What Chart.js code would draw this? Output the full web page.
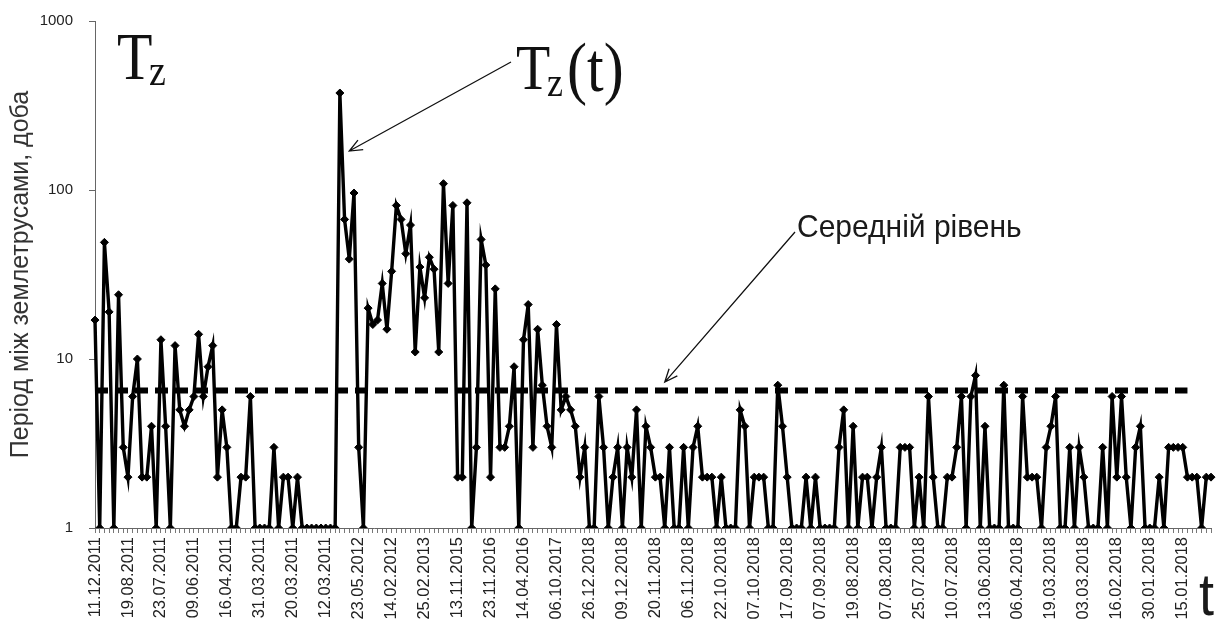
<!DOCTYPE html>
<html>
<head>
<meta charset="utf-8">
<script src="https://cdn.jsdelivr.net/npm/chart.js@4.4.0/dist/chart.umd.min.js"></script>
<style>
  html, body { margin: 0; padding: 0; background: #fff; }
  #wrap { width: 1216px; height: 633px; position: relative; }
</style>
</head>
<body>
<div id="wrap"><canvas id="chart"></canvas></div>
<script>
// date labels, one every 7 events
const tickLabels = [
  '11.12.2011', '19.08.2011', '23.07.2011', '09.06.2011', '16.04.2011', '31.03.2011',
  '20.03.2011', '12.03.2011', '23.05.2012', '14.02.2012', '25.02.2013', '13.11.2015',
  '23.11.2016', '14.04.2016', '06.10.2017', '26.12.2018', '09.12.2018', '20.11.2018',
  '06.11.2018', '22.10.2018', '07.10.2018', '17.09.2018', '07.09.2018', '19.08.2018',
  '07.08.2018', '25.07.2018', '10.07.2018', '13.06.2018', '06.04.2018', '19.03.2018',
  '03.03.2018', '16.02.2018', '30.01.2018', '15.01.2018'
];
const labelStep = 7;

// period between earthquakes, days
const periodDays = [
  17, 1, 49, 19, 1, 24, 3, 2, 6, 10,
  2, 2, 4, 1, 13, 4, 1, 12, 5, 4,
  5, 6, 14, 6, 9, 12, 2, 5, 3, 1,
  1, 2, 2, 6, 1, 1, 1, 1, 3, 1,
  2, 2, 1, 2, 1, 1, 1, 1, 1, 1,
  1, 1, 375, 67, 39, 96, 3, 1, 20, 16,
  17, 28, 15, 33, 81, 67, 42, 62, 11, 35,
  23, 40, 34, 11, 109, 28, 81, 2, 2, 84,
  1, 3, 51, 36, 2, 26, 3, 3, 4, 9,
  1, 13, 21, 3, 15, 7, 4, 3, 16, 5,
  6, 5, 4, 2, 3, 1, 1, 6, 3, 1,
  2, 3, 1, 3, 2, 5, 1, 4, 3, 2,
  2, 1, 3, 1, 1, 3, 1, 3, 4, 2,
  2, 2, 1, 2, 1, 1, 1, 5, 4, 1,
  2, 2, 2, 1, 1, 7, 4, 2, 1, 1,
  1, 2, 1, 2, 1, 1, 1, 1, 3, 5,
  1, 4, 1, 2, 2, 1, 2, 3, 1, 1,
  1, 3, 3, 3, 1, 2, 1, 6, 2, 1,
  1, 2, 2, 3, 6, 1, 6, 8, 1, 4,
  1, 1, 1, 7, 1, 1, 1, 6, 2, 2,
  2, 1, 3, 4, 6, 1, 1, 3, 1, 3,
  2, 1, 1, 1, 3, 1, 6, 2, 6, 2,
  1, 3, 4, 1, 1, 1, 2, 1, 3, 3,
  3, 3, 2, 2, 2, 1, 2, 2
];

const meanLevel = 6.5;
const meanEndIndex = 232;
const yTicks = [1, 10, 100, 1000];

// where the two arrows point, in data terms
const seriesArrowTip = { index: 54, value: 170 };
const meanArrowTip = { index: 121, value: 7.3 };

const categories = periodDays.map((_, i) =>
  i % labelStep === 0 ? (tickLabels[i / labelStep] || '') : '');
const meanLine = periodDays.map((_, i) =>
  (i === 0 || i === meanEndIndex) ? meanLevel : null);

function arrow(ctx, x1, y1, x2, y2) {
  const a = Math.atan2(y2 - y1, x2 - x1);
  const len = 14, spread = 0.4;
  ctx.beginPath();
  ctx.moveTo(x1, y1);
  ctx.lineTo(x2, y2);
  ctx.moveTo(x2 - len * Math.cos(a - spread), y2 - len * Math.sin(a - spread));
  ctx.lineTo(x2, y2);
  ctx.lineTo(x2 - len * Math.cos(a + spread), y2 - len * Math.sin(a + spread));
  ctx.stroke();
}

// text drawn a little taller than wide, like the source figure
function tallText(ctx, text, font, x, y, stretch) {
  ctx.save();
  ctx.font = font;
  ctx.translate(x, y);
  ctx.scale(1, stretch);
  ctx.fillText(text, 0, 0);
  ctx.restore();
}

const notes = {
  id: 'notes',
  afterDraw(chart) {
    const { ctx, scales: { x, y } } = chart;
    ctx.save();
    ctx.fillStyle = '#111';
    ctx.strokeStyle = '#111';
    ctx.textBaseline = 'alphabetic';
    ctx.textAlign = 'left';

    // Tz in the corner
    tallText(ctx, 'T', '58px "Liberation Serif"', 117, 79, 1.15);
    tallText(ctx, 'z', '38px "Liberation Serif"', 149, 85, 1.15);

    // Tz(t)
    tallText(ctx, 'T', '56px "Liberation Serif"', 516, 89, 1.15);
    tallText(ctx, 'z', '36px "Liberation Serif"', 547, 96, 1.15);
    tallText(ctx, '(t)', '60px "Liberation Serif"', 567, 91, 1.15);

    ctx.fillStyle = '#1a1a1a';
    tallText(ctx, 'Середній рівень', '30px "Liberation Sans"', 797, 237, 1.05);
    tallText(ctx, 't', '54px "Liberation Sans"', 1199, 615, 1.1);

    ctx.lineWidth = 1.3;
    arrow(ctx, 511, 62,
      x.getPixelForValue(seriesArrowTip.index), y.getPixelForValue(seriesArrowTip.value));
    arrow(ctx, 795, 232,
      x.getPixelForValue(meanArrowTip.index), y.getPixelForValue(meanArrowTip.value));
    ctx.restore();
  }
};

new Chart(document.getElementById('chart'), {
  type: 'line',
  data: {
    labels: categories,
    datasets: [
      {
        data: meanLine,
        spanGaps: true,
        borderColor: '#000',
        borderWidth: 6,
        borderDash: [13, 7],
        pointRadius: 0
      },
      {
        data: periodDays,
        borderColor: '#000',
        backgroundColor: '#000',
        borderWidth: 3.4,
        borderJoinStyle: 'miter',
        pointStyle: 'rectRot',
        pointRadius: 4,
        pointBorderWidth: 1,
        tension: 0
      }
    ]
  },
  options: {
    responsive: true,
    maintainAspectRatio: false,
    animation: false,
    layout: { padding: { top: 21, right: 5, left: 0, bottom: 0 } },
    plugins: { legend: { display: false }, tooltip: { enabled: false } },
    scales: {
      x: {
        type: 'category',
        offset: false,
        border: { color: '#666', width: 1 },
        grid: { drawOnChartArea: false, tickLength: 5, color: '#777' },
        ticks: {
          autoSkip: false,
          minRotation: 90,
          maxRotation: 90,
          padding: 4,
          color: '#222',
          font: { family: 'Liberation Sans', size: 16.5 }
        },
        afterFit: s => { s.height = 105; s.paddingLeft = 0; s.paddingRight = 0; }
      },
      y: {
        type: 'logarithmic',
        min: 1,
        max: 1000,
        afterBuildTicks: s => { s.ticks = yTicks.map(v => ({ value: v })); },
        border: { color: '#666', width: 1 },
        grid: { drawOnChartArea: false, tickLength: 6, color: '#666' },
        ticks: {
          callback: v => String(v),
          padding: 16,
          color: '#222',
          font: { family: 'Liberation Sans', size: 15 }
        },
        title: {
          display: true,
          text: 'Період між землетрусами, доба',
          color: '#333',
          font: { family: 'Liberation Sans', size: 25 },
          padding: { top: 6, bottom: 0 }
        },
        afterFit: s => { s.width = 95; s.paddingTop = 0; s.paddingBottom = 0; }
      }
    }
  },
  plugins: [notes]
});
</script>
</body>
</html>
